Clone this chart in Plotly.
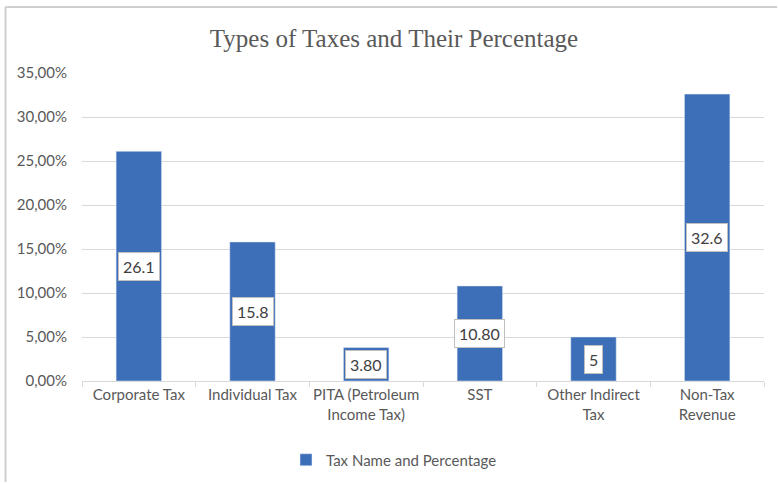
import plotly.graph_objects as go

categories = ["Corporate Tax", "Individual Tax", "PITA (Petroleum<br>Income Tax)", "SST",
              "Other Indirect<br>Tax", "Non-Tax<br>Revenue"]
values_pct = [26.1, 15.8, 3.80, 10.80, 5, 32.6]
label_texts = ["26.1", "15.8", "3.80", "10.80", "5", "32.6"]
series_name = "Tax Name and Percentage"
title_text = "Types of Taxes and Their Percentage"

values = [v / 100 for v in values_pct]
BAR = "#3D6FB9"
GRID = "#D9D9D9"
TXT = "#595959"
FONT = "Lato, 'Liberation Sans', sans-serif"

fig = go.Figure()
fig.add_trace(go.Bar(x=categories, y=values, name=series_name, marker_color=BAR,
                     width=0.4, showlegend=True))

for c, v, t in zip(categories, values, label_texts):
    fig.add_annotation(x=c, y=v / 2, text=t, showarrow=False, bgcolor="white",
                       bordercolor="#BFBFBF", borderwidth=1, borderpad=4,
                       font=dict(family=FONT, size=16, color="#404040"))

L, R, T, B = 82, 14, 73, 102
W, H = 778, 483
pw, ph = W - L - R, H - T - B
def px(x):
    return (x - L) / pw
def py(y):
    return (H - B - y) / ph

border = dict(color="#CFCFCF", width=2)
fig.add_shape(type="line", xref="paper", yref="paper",
              x0=px(5.5), x1=px(777), y0=py(7), y1=py(7), line=border, layer="above")
fig.add_shape(type="line", xref="paper", yref="paper",
              x0=px(5.5), x1=px(5.5), y0=py(7), y1=py(482), line=border, layer="above")

fig.update_layout(
    width=W, height=H,
    margin=dict(l=L, r=R, t=T, b=B, autoexpand=False),
    paper_bgcolor="white", plot_bgcolor="white",
    separators=",.",
    title=dict(text=title_text, x=394 / W, xref="container", xanchor="center", y=1 - 38 / H, yanchor="middle",
               font=dict(family="'Liberation Serif', 'Times New Roman', serif", size=25, color=TXT)),
    font=dict(family=FONT, size=15, color=TXT),
    showlegend=True,
    legend=dict(orientation="h", x=px(394), xanchor="center", y=py(460), yanchor="middle",
                font=dict(family=FONT, size=15, color=TXT), itemwidth=30),
    xaxis=dict(showgrid=False, showline=True, linecolor=GRID, linewidth=1, automargin=False,
               ticks="outside", tickson="boundaries", ticklen=5, tickcolor=GRID, tickangle=0,
               tickfont=dict(family=FONT, size=15, color=TXT)),
    yaxis=dict(range=[0, 0.35], dtick=0.05, tickformat=".2%", showgrid=True, gridcolor=GRID,
               gridwidth=1, zeroline=False, showline=False, ticks="", ticklabelstandoff=14,
               automargin=False,
               tickfont=dict(family=FONT, size=15, color=TXT)),
    bargap=0.6,
)

fig.write_html("out.html", config={"displayModeBar": False},
               post_script="document.body.style.margin='0';document.body.style.overflow='hidden';")
